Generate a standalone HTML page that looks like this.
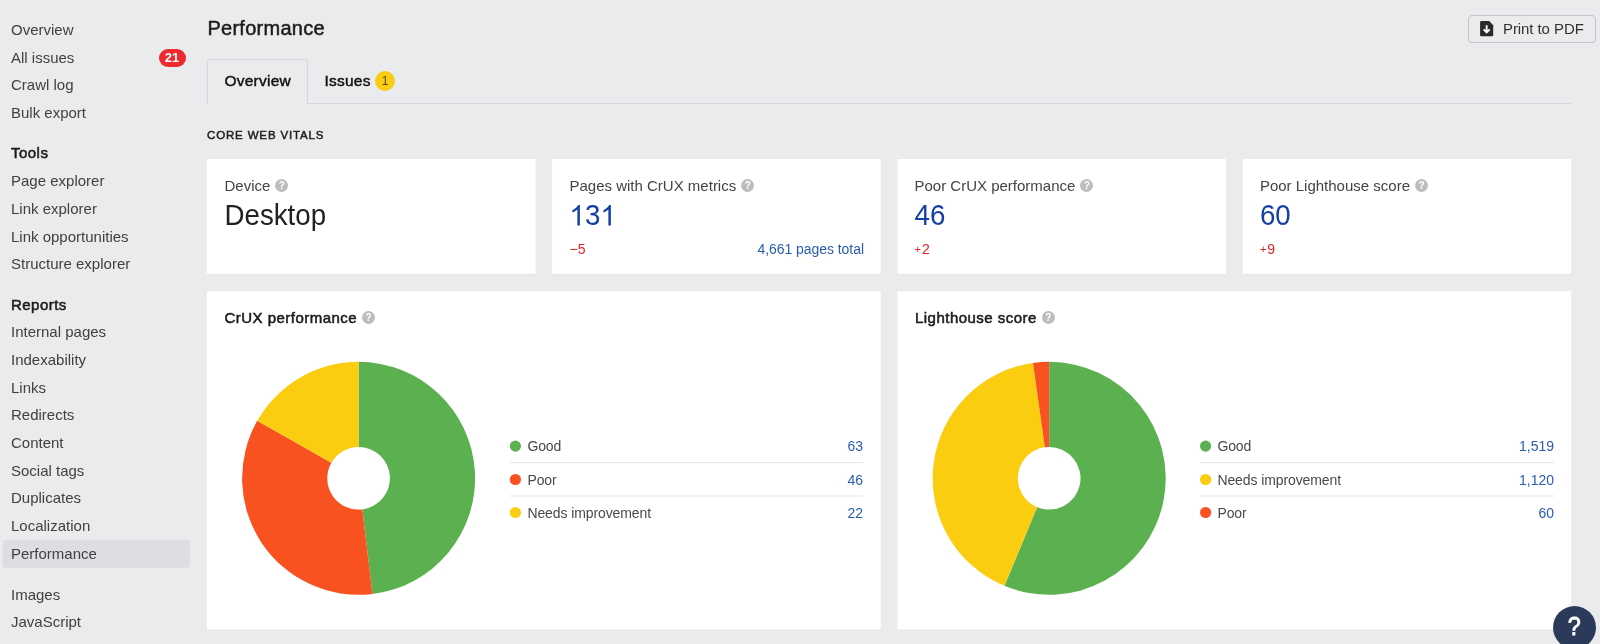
<!DOCTYPE html>
<html>
<head>
<meta charset="utf-8">
<title>Performance</title>
<style>
html,body{margin:0;padding:0;}
body{width:1600px;height:644px;overflow:hidden;background:#eaebed;font-family:"Liberation Sans",sans-serif;color:#333;position:relative;}
#wrap{position:absolute;left:0;top:0;width:1600px;height:644px;overflow:hidden;will-change:transform;}
.abs{position:absolute;}
.nav{position:absolute;left:11px;font-size:15px;line-height:20px;color:#414141;white-space:nowrap;}
.nav.h{color:#1c1c1c;left:11px;letter-spacing:0.47px;-webkit-text-stroke:0.55px #1c1c1c;}
.badge{position:absolute;left:159px;top:49px;width:27px;height:18px;border-radius:9px;background:#ec2a30;color:#fff;font-weight:bold;font-size:13px;line-height:18px;text-align:center;box-sizing:border-box;padding-right:1px;}
.title{position:absolute;left:207px;top:16px;transform:translate(0.4px,-0.35px);font-size:20px;line-height:24px;letter-spacing:0.27px;color:#1c1c1c;-webkit-text-stroke:0.5px #1c1c1c;}
.btn{position:absolute;left:1468px;top:15px;width:126px;height:26px;border:1px solid #c4c5c9;border-radius:4px;}
.btn span{position:absolute;left:34px;top:3px;font-size:15px;line-height:20px;color:#333;white-space:nowrap;letter-spacing:-0.08px;}
.tabline{position:absolute;left:207px;top:103px;width:1364px;height:1px;background:#d6d7da;}
.tab{position:absolute;left:207px;top:59px;width:99px;height:44px;border:1px solid #d6d7da;border-bottom:none;border-radius:4px 4px 0 0;background:#eaebed;box-sizing:content-box;}
.tabtxt{position:absolute;font-size:15.5px;letter-spacing:0.25px;line-height:20px;color:#111;white-space:nowrap;-webkit-text-stroke:0.45px #111;}
.ybadge{position:absolute;left:375px;top:71px;width:20px;height:20px;border-radius:10px;background:#facc15;color:#5a4a08;font-size:12px;line-height:20px;text-align:center;}
.sect{position:absolute;left:207px;top:128px;font-size:11.5px;line-height:14px;letter-spacing:0.85px;color:#222;white-space:nowrap;-webkit-text-stroke:0.5px #222;}
.card{position:absolute;}
.lbl{position:absolute;left:17.5px;top:16.6px;font-size:15px;line-height:20px;color:#444;white-space:nowrap;}
.big{position:absolute;left:17.5px;top:40.3px;font-size:27.7px;line-height:34px;color:#143fa6;white-space:nowrap;transform-origin:0 26.6px;transform:translateY(0.4px) scaleY(1.08);}
.delta{position:absolute;left:17.5px;top:82.3px;font-size:14px;line-height:16px;color:#e0242b;white-space:nowrap;}
.sg{font-size:11px;vertical-align:1.3px;margin-right:1px;}
.tot{position:absolute;right:16px;letter-spacing:-0.05px;top:81px;font-size:14px;line-height:18px;color:#2a5db0;white-space:nowrap;}
.q{display:inline-block;width:13px;height:13px;border-radius:6.5px;background:#bdbdbd;color:#fff;font-size:10px;line-height:13px;text-align:center;font-weight:bold;vertical-align:1.5px;margin-left:6px;letter-spacing:0;-webkit-text-stroke:0;margin-left:5px;}
.ctitle{position:absolute;left:18px;top:16.5px;font-size:15px;line-height:20px;color:#1c1c1c;white-space:nowrap;letter-spacing:0.47px;-webkit-text-stroke:0.55px #1c1c1c;}
.leg{position:absolute;font-size:14px;line-height:18px;color:#4a4a4a;white-space:nowrap;letter-spacing:-0.1px;}
.legv{position:absolute;font-size:14px;line-height:18px;color:#2a5db0;white-space:nowrap;text-align:right;}
.help{position:absolute;left:1553px;top:606px;width:43px;height:43px;border-radius:22px;background:#2b3a5a;color:#fff;font-size:26px;line-height:40.6px;text-align:center;-webkit-text-stroke:0.8px #fff;}
.help span{display:inline-block;transform:scaleX(0.9);}
</style>
</head>
<body>
<div id="wrap">

<svg class="abs" style="left:0;top:0" width="1600" height="644" viewBox="0 0 1600 644">
<rect x="2.6" y="540.1" width="187.4" height="27.8" rx="4" fill="#dcdee3"/>
<g fill="#000" fill-opacity="0.025">
<rect x="207" y="160" width="328.55" height="115"/><rect x="552.18" y="160" width="328.55" height="115"/><rect x="897.36" y="160" width="328.55" height="115"/><rect x="1242.54" y="160" width="328.55" height="115"/>
<rect x="207" y="292" width="673.73" height="338.6"/><rect x="897.36" y="292" width="673.73" height="338.6"/>
</g>
<g fill="#fff">
<rect x="207" y="159" width="328.55" height="114.9"/><rect x="552.18" y="159" width="328.55" height="114.9"/><rect x="897.55" y="159" width="328.4" height="114.9"/><rect x="1242.54" y="159" width="328.55" height="114.9"/>
<rect x="207" y="291.2" width="673.73" height="338.3"/><rect x="897.55" y="291.2" width="673.54" height="338.3"/>
</g>
<g fill="#143fa6"><path transform="translate(569.3 225.5) scale(0.013867 -0.013867)" d="M763 0H583V1147Q518 1085 412.5 1023T223 930V1104Q375 1175 488.5 1277T649 1474H763Z"/><path transform="translate(600.3 225.5) scale(0.013867 -0.013867)" d="M763 0H583V1147Q518 1085 412.5 1023T223 930V1104Q375 1175 488.5 1277T649 1474H763Z"/></g>
</svg>
<!-- sidebar -->
<div class="nav" style="top:20px">Overview</div>
<div class="nav" style="top:48px">All issues</div>
<div class="badge">21</div>
<div class="nav" style="top:75px">Crawl log</div>
<div class="nav" style="top:103px">Bulk export</div>
<div class="nav h" style="top:143px">Tools</div>
<div class="nav" style="top:171px">Page explorer</div>
<div class="nav" style="top:199px">Link explorer</div>
<div class="nav" style="top:227px">Link opportunities</div>
<div class="nav" style="top:254px">Structure explorer</div>
<div class="nav h" style="top:295px">Reports</div>
<div class="nav" style="top:322px">Internal pages</div>
<div class="nav" style="top:350px">Indexability</div>
<div class="nav" style="top:378px">Links</div>
<div class="nav" style="top:405px">Redirects</div>
<div class="nav" style="top:433px">Content</div>
<div class="nav" style="top:461px">Social tags</div>
<div class="nav" style="top:488px">Duplicates</div>
<div class="nav" style="top:516px">Localization</div>
<div class="nav" style="top:544px">Performance</div>
<div class="nav" style="top:585px">Images</div>
<div class="nav" style="top:612px">JavaScript</div>

<!-- header -->
<div class="title">Performance</div>
<div class="btn">
<svg class="abs" style="left:11px;top:5px" width="14" height="16" viewBox="0 0 14 16"><path d="M0.1 1.1Q0.1 0.1 1.1 0.1H9.2L13.2 4.3V14.3Q13.2 15.2 12.2 15.2H1.1Q0.1 15.2 0.1 14.2Z" fill="#2a2a2a"/><path d="M6.65 4.2V11M3.6 8.3L6.65 11.4L9.7 8.3" stroke="#fff" stroke-width="1.9" fill="none"/></svg>
<span>Print to PDF</span>
</div>

<!-- tabs -->
<div class="tabline"></div>
<div class="tab"></div>
<div class="tabtxt" style="left:224.4px;top:71px">Overview</div>
<div class="tabtxt" style="left:324.4px;top:71px">Issues</div>
<div class="ybadge">1</div>

<div class="sect">CORE WEB VITALS</div>

<!-- stat cards -->
<div class="card" style="left:207px;top:159px;width:328px;height:114px">
  <div class="lbl">Device<span class="q">?</span></div>
  <div class="big" style="color:#222">Desktop</div>
</div>
<div class="card" style="left:552px;top:159px;width:328px;height:114px">
  <div class="lbl">Pages with CrUX metrics<span class="q">?</span></div>
  <div class="big"><span style="visibility:hidden">1</span>3</div>
  <div class="delta">&minus;5</div>
  <div class="tot">4,661 pages total</div>
</div>
<div class="card" style="left:897px;top:159px;width:328px;height:114px">
  <div class="lbl">Poor CrUX performance<span class="q">?</span></div>
  <div class="big">46</div>
  <div class="delta"><span class="sg">+</span>2</div>
</div>
<div class="card" style="left:1242.4px;top:159px;width:328px;height:114px">
  <div class="lbl">Poor Lighthouse score<span class="q">?</span></div>
  <div class="big">60</div>
  <div class="delta"><span class="sg">+</span>9</div>
</div>

<!-- chart cards -->
<div class="card" style="left:207px;top:291px;width:673px;height:338px">
  <div class="ctitle" style="left:17.5px">CrUX performance<span class="q">?</span></div>
  <svg class="abs" style="left:0;top:0" width="673" height="338" viewBox="207 291 673 338">
    <g><circle cx="515.4" cy="446.1" r="5.6" fill="#5bb04f"/><circle cx="515.4" cy="479.5" r="5.6" fill="#f85220"/><circle cx="515.4" cy="512.5" r="5.6" fill="#facd10"/><rect x="509.8" y="462.1" width="353.9" height="1" fill="#e4e5e8"/><rect x="509.8" y="495.5" width="353.9" height="1" fill="#e4e5e8"/></g><g id="d1"><path d="M358.60 361.80A116.5 116.5 0 0 1 372.54 593.96L362.34 509.38A31.3 31.3 0 0 0 358.60 447.00Z" fill="#5bb04f"/><path d="M372.54 593.96A116.5 116.5 0 0 1 257.25 420.86L331.37 462.87A31.3 31.3 0 0 0 362.34 509.38Z" fill="#f85220"/><path d="M257.25 420.86A116.5 116.5 0 0 1 358.60 361.80L358.60 447.00A31.3 31.3 0 0 0 331.37 462.87Z" fill="#facd10"/></g>
  </svg>
  <div class="leg" style="left:320.4px;top:146.3px">Good</div>
  <div class="legv" style="right:17px;top:146.3px">63</div>
  <div class="leg" style="left:320.4px;top:179.6px">Poor</div>
  <div class="legv" style="right:17px;top:179.6px">46</div>
  <div class="leg" style="left:320.4px;top:212.7px">Needs improvement</div>
  <div class="legv" style="right:17px;top:212.7px">22</div>
</div>

<div class="card" style="left:897px;top:291px;width:674px;height:338px">
  <div class="ctitle">Lighthouse score<span class="q">?</span></div>
  <svg class="abs" style="left:0;top:0" width="674" height="338" viewBox="897 291 674 338">
    <g><circle cx="1205.6" cy="446.1" r="5.6" fill="#5bb04f"/><circle cx="1205.6" cy="479.5" r="5.6" fill="#facd10"/><circle cx="1205.6" cy="512.5" r="5.6" fill="#f85220"/><rect x="1200.0" y="462.1" width="354.2" height="1" fill="#e4e5e8"/><rect x="1200.0" y="495.5" width="354.2" height="1" fill="#e4e5e8"/></g><g id="d2"><path d="M1049.20 361.80A116.5 116.5 0 1 1 1004.41 585.85L1037.17 507.19A31.3 31.3 0 1 0 1049.20 447.00Z" fill="#5bb04f"/><path d="M1004.41 585.85A116.5 116.5 0 0 1 1032.98 362.93L1044.84 447.30A31.3 31.3 0 0 0 1037.17 507.19Z" fill="#facd10"/><path d="M1032.98 362.93A116.5 116.5 0 0 1 1049.20 361.80L1049.20 447.00A31.3 31.3 0 0 0 1044.84 447.30Z" fill="#f85220"/></g>
  </svg>
  <div class="leg" style="left:320.4px;top:146.3px">Good</div>
  <div class="legv" style="right:17px;top:146.3px">1,519</div>
  <div class="leg" style="left:320.4px;top:179.6px">Needs improvement</div>
  <div class="legv" style="right:17px;top:179.6px">1,120</div>
  <div class="leg" style="left:320.4px;top:212.7px">Poor</div>
  <div class="legv" style="right:17px;top:212.7px">60</div>
</div>

<div class="help"><span>?</span></div>

</div>
</body>
</html>
